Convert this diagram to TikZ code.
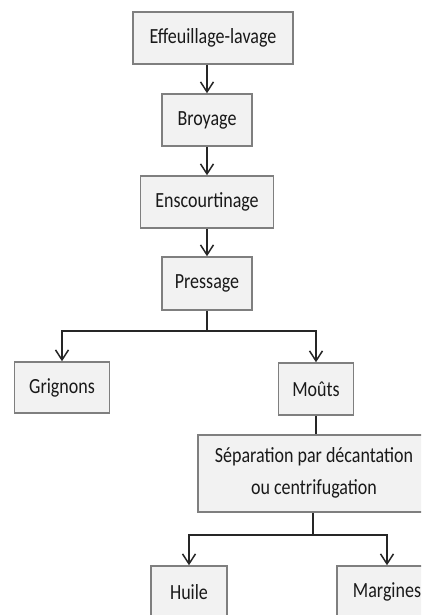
\documentclass[tikz,border=0pt]{standalone}
\usepackage{fontspec}
\setmainfont{Carlito}
\usetikzlibrary{arrows.meta}
\definecolor{boxfill}{HTML}{F2F2F2}
\definecolor{boxline}{HTML}{7F7F7F}
\definecolor{linecol}{HTML}{262626}
\newcommand{\tx}[1]{\scalebox{1}[1.2]{#1}}
\begin{document}
\begin{tikzpicture}[x=1pt,y=-1pt,
  box/.style={draw=boxline, fill=boxfill, line width=1.5pt, inner sep=0pt,
    font=\fontsize{18}{21}\selectfont, text=black!90},
  conn/.style={draw=linecol, line width=1.5pt},
  arr/.style={conn, -{Straight Barb[length=10pt,width=13pt,line width=1.5pt]}}]
\path[use as bounding box] (0,0) rectangle (421,615);
\clip (0,0) rectangle (421,615);
\node[box, minimum width=160pt, minimum height=52pt] (e1) at (213,38) {\tx{Effeuillage-lavage}};
\node[box, minimum width=90pt, minimum height=52pt] (e2) at (207,120) {\tx{Broyage}};
\node[box, minimum width=133pt, minimum height=52pt] (e3) at (207,202) {\tx{Enscourtinage}};
\node[box, minimum width=90pt, minimum height=53pt] (e4) at (207,283.5) {\tx{Pressage}};
\node[box, minimum width=95pt, minimum height=51pt] (g) at (62,387.5) {\tx{Grignons}};
\node[box, minimum width=75pt, minimum height=52pt] (m) at (316,389) {\tx{Moûts}};
\node[box, minimum width=232pt, minimum height=77pt] (s) at (314,473.5)
  {\scalebox{1}[1.2]{\begin{tabular}{@{}c@{}}Séparation par décantation\\[5pt]ou centrifugation\end{tabular}}};
\node[box, minimum width=76pt, minimum height=52pt] (h) at (189,592) {\tx{Huile}};
\node[box, minimum width=100pt, minimum height=52pt] (mg) at (387,592) {\tx{Margines}};
\coordinate (b1) at (207,331);
\coordinate (b2) at (313,535);
\draw[arr] (e2.north |- e1.south) -- (e2.north);
\draw[arr] (e2.south) -- (e2.south |- e3.north);
\draw[arr] (e3.south) -- (e3.south |- e4.north);
\draw[conn] (e4.south) -- (b1);
\draw[arr] (b1) -| (g.north);
\draw[arr] (b1) -| (m.north);
\draw[conn] (m.south) -- (m.south |- s.north);
\draw[conn] (b2 |- s.south) -- (b2);
\draw[arr] (b2) -| (h.north);
\draw[arr] (b2) -| (mg.north);
\end{tikzpicture}
\end{document}
